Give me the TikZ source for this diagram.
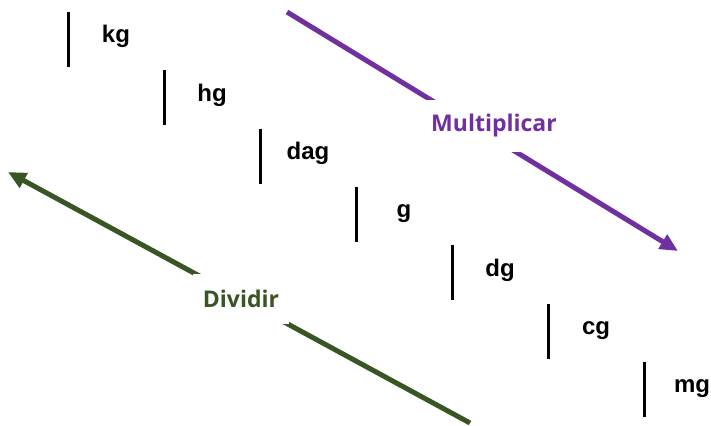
\documentclass[tikz,border=0pt]{standalone}
\usepackage{fontspec}
\setmainfont{Liberation Sans}
\newfontfamily\opfont{Open Sans}
\usetikzlibrary{arrows.meta}
\definecolor{mulPurple}{HTML}{7030A0}
\definecolor{divGreen}{HTML}{375623}
\tikzset{
  unitbar/.style={line width=3pt,black},
  unitlbl/.style={anchor=base,inner sep=0pt,
    font=\fontsize{24}{28}\selectfont\bfseries},
  opline/.style={line width=5pt,-{Triangle[length=18pt,width=16pt]}},
  oplbl/.style={fill=white,inner sep=0pt,
    font=\opfont\fontsize{23}{28}\selectfont\bfseries},
}
\begin{document}
\begin{tikzpicture}[x=1pt,y=-1pt]
  \useasboundingbox (0,0) rectangle (711,425);

  % staircase of units
  \foreach \u [count=\i from 0] in {kg,hg,dag,g,dg,cg,mg}{
    \draw[unitbar] (68+96*\i,12+58.3*\i) -- ++(0,55);
    \node[unitlbl] (u\i) at (116+96*\i,43+58.3*\i) {\u};
  }

  % multiply downwards
  \coordinate (mulA) at (287,12);
  \coordinate (mulB) at (678,251);
  \draw[opline,mulPurple] (mulA) -- (mulB);
  \node[oplbl,text=mulPurple,minimum width=140pt,minimum height=52pt]
    (mul) at (494,126) {Multiplicar};

  % divide upwards
  \coordinate (divA) at (470,423);
  \coordinate (divB) at (8,172);
  \draw[opline,divGreen] (divA) -- (divB);
  \node[oplbl,text=divGreen,minimum width=96pt,minimum height=50pt]
    (div) at (241,299) {Dividir};
\end{tikzpicture}
\end{document}
